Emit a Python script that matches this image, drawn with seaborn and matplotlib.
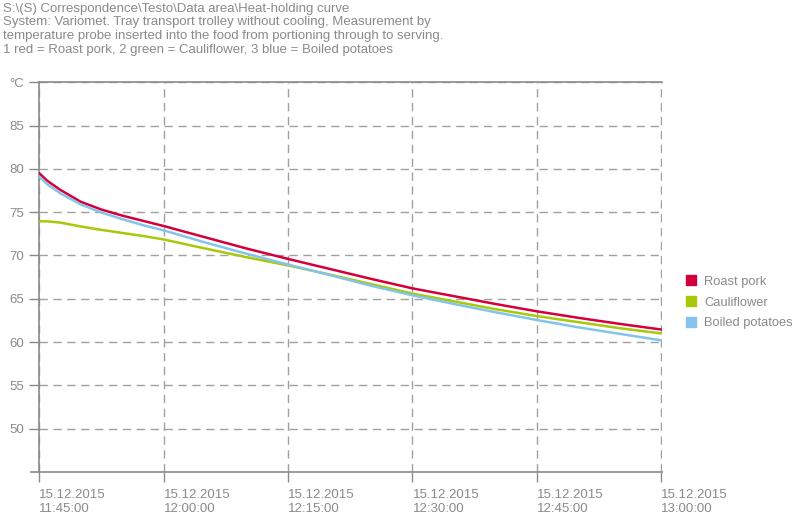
import pandas as pd
import matplotlib
matplotlib.use("Agg")
from matplotlib import pyplot as plt
import matplotlib.dates as mdates
from matplotlib.patches import Patch
import seaborn as sns

# minutes after 11:45 on 15.12.2015
minutes = [0, 1, 2.5, 5, 7.5, 10, 12.5, 15, 20, 25, 30, 35, 40, 45, 50, 55, 60, 65, 70, 75]
roast_pork = [79.5, 78.6, 77.6, 76.2, 75.3, 74.6, 74.0, 73.4, 72.1, 70.8, 69.6, 68.45, 67.3, 66.2,
              65.3, 64.4, 63.55, 62.8, 62.1, 61.45]
cauliflower = [73.95, 73.93, 73.8, 73.35, 72.95, 72.6, 72.25, 71.85, 70.8, 69.8, 68.85, 67.8, 66.7,
               65.6, 64.7, 63.8, 63.0, 62.3, 61.6, 61.0]
boiled_potatoes = [79.1, 78.2, 77.2, 75.9, 74.95, 74.2, 73.5, 72.9, 71.5, 70.2, 68.95, 67.75, 66.5,
                   65.4, 64.4, 63.45, 62.55, 61.7, 60.95, 60.2]

series_names = ["Roast pork", "Cauliflower", "Boiled potatoes"]
colors = ["#d4003c", "#a8c80a", "#84c4ea"]
yticks = [50, 55, 60, 65, 70, 75, 80, 85, 90]
ylabels = ["50", "55", "60", "65", "70", "75", "80", "85", "°C"]

start = pd.Timestamp("2015-12-15 11:45:00")
end = start + pd.Timedelta(minutes=75, seconds=8)
times = [start + pd.Timedelta(minutes=m) for m in minutes]
df = pd.DataFrame({
    "time": times * 3,
    "temp": roast_pork + cauliflower + boiled_potatoes,
    "food": [series_names[0]] * len(times) + [series_names[1]] * len(times) + [series_names[2]] * len(times),
})

sns.set_style("white")
plt.rcParams["font.family"] = ["Liberation Sans", "DejaVu Sans"]
gray = "#8a8a8a"

fig = plt.figure(figsize=(8, 5.17), dpi=100)
ax = fig.add_axes([0.049, 0.087, 0.779, 0.754])

sns.lineplot(data=df, x="time", y="temp", hue="food", palette=colors, linewidth=1.8,
             legend=False, ax=ax, zorder=3)

ax.set_xlim(start, end)
ax.set_ylim(45, 90)
ax.set_yticks(yticks)
ax.set_yticklabels(ylabels)

ax.xaxis.set_major_locator(mdates.MinuteLocator(byminute=[0, 15, 30, 45]))
ax.xaxis.set_major_formatter(mdates.DateFormatter("%d.%m.%Y\n%H:%M:%S"))
for lab in ax.get_xticklabels():
    lab.set_horizontalalignment("left")
    lab.set_linespacing(1.25)

ax.set_xlabel("")
ax.set_ylabel("")
ax.grid(True, color="#a0a0a0", linestyle=(0, (6, 4)), linewidth=1.0)
ax.tick_params(axis="both", colors=gray, labelcolor=gray, labelsize=9.5,
               length=7, width=1.0, direction="out", left=True, bottom=True)
ax.tick_params(axis="y", pad=4)
ax.tick_params(axis="x", pad=5)

for side in ["left", "bottom", "top"]:
    ax.spines[side].set_color("#8a8a8a")
    ax.spines[side].set_linewidth(1.2)
ax.spines["right"].set_visible(False)
# x axis line runs a little past the y axis, as in the original
ax.spines["bottom"].set_bounds(mdates.date2num(start - pd.Timedelta(minutes=1)), mdates.date2num(end))

handles = [Patch(facecolor=c, edgecolor=c) for c in colors]
leg = fig.legend(handles, series_names, loc="upper left", bbox_to_anchor=(0.843, 0.49),
                 frameon=False, fontsize=9.3, handlelength=0.8, handleheight=0.8,
                 handletextpad=0.6, labelspacing=0.65)
for t in leg.get_texts():
    t.set_color(gray)

header = ("S:\\(S) Correspondence\\Testo\\Data area\\Heat-holding curve\n"
          "System: Variomet. Tray transport trolley without cooling, Measurement by\n"
          "temperature probe inserted into the food from portioning through to serving.\n"
          "1 red = Roast pork, 2 green = Cauliflower, 3 blue = Boiled potatoes")
fig.text(0.004, 0.995, header, ha="left", va="top", fontsize=9.5, color=gray, linespacing=1.2)

fig.savefig("out.png", dpi=100)
